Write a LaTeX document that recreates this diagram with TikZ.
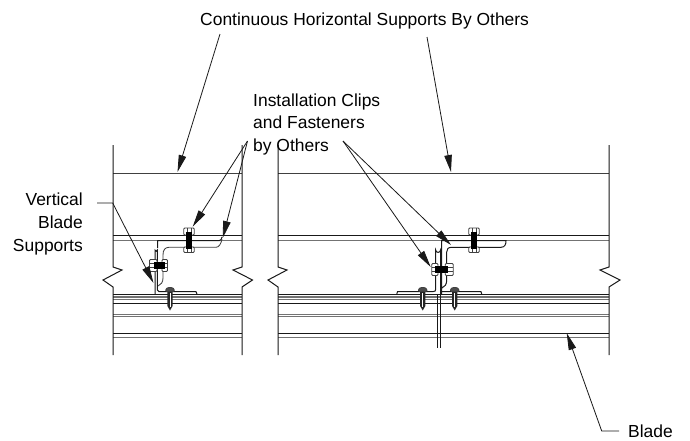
\documentclass[tikz,border=0pt]{standalone}
\usepackage{fontspec}
\setmainfont{Liberation Sans}
\usetikzlibrary{arrows.meta}
\tikzset{
 ln/.style={line width=1pt,black!90},
 thn/.style={line width=0.85pt,black!75},
 gr/.style={line width=0.9pt,black!55},
 lead/.style={line width=0.8pt,black!90},
 arr/.style={lead,-{Triangle[length=17pt,width=7.5pt]}},
 lbl/.style={font=\fontsize{17.45}{17.45}\selectfont,inner sep=0pt,text=black},
}
% vertical bolt at x=#1
\newcommand{\vbolt}[1]{
 \draw[thn,fill=white,rounded corners=1pt] (#1-5.2,228) rectangle (#1+5.2,235);
 \draw[thn,fill=white,rounded corners=1pt] (#1-5.2,247) rectangle (#1+5.2,252.5);
 \draw[thn] (#1-2,228)--(#1-2,235) (#1+2,228)--(#1+2,235) (#1-2,247)--(#1-2,252.5) (#1+2,247)--(#1+2,252.5);
 \fill[black] (#1-3.4,232)rectangle(#1+3.4,249);
}
% horizontal bolt: #1 nut left start, #2 black start, #3 black end, #4 nut end, #5 y centre
\newcommand{\hbolt}[5]{
 \draw[thn,fill=white,rounded corners=1pt] (#1,#5-6) rectangle (#2+3,#5+6);
 \draw[thn,fill=white,rounded corners=1pt] (#3-3,#5-6) rectangle (#4,#5+6);
 \draw[thn] (#1,#5-2)--(#2,#5-2) (#1,#5+2)--(#2,#5+2) (#3,#5-2)--(#4,#5-2) (#3,#5+2)--(#4,#5+2);
 \fill[black] (#2,#5-3.8)rectangle(#3,#5+3.8);
}
% screw at x=#1
\newcommand{\screw}[1]{
 \fill[black!85] (#1-2.6,291)--(#1+2.6,291)--(#1+2.6,306)--(#1,310.5)--(#1-2.6,306)--cycle;
 \draw[white,line width=0.6pt] (#1,293)--(#1,307);
 \draw[thn,fill=black!70,rounded corners=1pt] (#1-4.2,291.5)--(#1-4.2,289)--(#1-2,287.5)--(#1+2,287.5)--(#1+4.2,289)--(#1+4.2,291.5)--cycle;
}
\begin{document}
\begin{tikzpicture}[x=1pt,y=-1pt]
\useasboundingbox (0,0) rectangle (690,440);
\fill[white] (0,0) rectangle (690,440);
% panels: horizontal lines
\foreach \xa/\xb in {113/242,278/609}{
 \draw[thn] (\xa,173)--(\xb,173);
 \draw[ln] (\xa,235)--(\xb,235);
 \draw[gr] (\xa,240.7)--(\xb,240.7);
 \draw[ln] (\xa,294.3)--(\xb,294.3);
 \draw[gr,line width=1.5pt] (\xa,296.8)--(\xb,296.8);
 \draw[gr] (\xa,299)--(\xb,299);
 \draw[ln] (\xa,303)--(\xb,303);
 \draw[gr] (\xa,314.3)--(\xb,314.3);
 \draw[gr] (\xa,316.5)--(\xb,316.5);
 \draw[ln] (\xa,333.3)--(\xb,333.3);
 \draw[gr] (\xa,337)--(\xb,337);
}
% panel edges with breaks
\draw[ln] (113,145)--(113,267)--(122,270)--(103,280)--(113,287)--(113,355);
\draw[ln] (242,145)--(242,267)--(233,270)--(252.5,280)--(242,287)--(242,355);
\draw[ln] (278,145)--(278,267)--(287,270)--(268,280)--(278,287)--(278,355);
\draw[ln] (609,145)--(609,267)--(600,270)--(620,280)--(609,287)--(609,355);
% left clip
\draw[ln,line join=round] (157.5,248)--(157.5,240.7)--(219,240.7) .. controls (221,240.7) and (221.5,239) .. (222,237);
\draw[thn] (222,239) .. controls (221,244) and (219,247.3) .. (216,247.3)--(169,247.3) .. controls (165,247.3) and (163,250) .. (163,255)--(163,278) .. controls (163,282) and (161,285) .. (158,286);
\draw[ln] (155,294)--(155,250) arc (180:0:1.2) --(157.4,290) .. controls (157.4,291) and (158,291.6) .. (159,291.6)--(196,291.6)--(197,294);
\vbolt{189}
\hbolt{149.5}{154}{165}{167.5}{265.5}
\screw{170}
% right clips
\draw[ln] (396.8,294)--(397.5,291.6)--(433,291.6) .. controls (435,291.6) and (435.7,291) .. (435.7,289)--(435.7,250) arc (180:0:2.4)--(440.5,295);
\draw[ln] (437.3,295)--(437.3,348) (440.7,295)--(440.7,348);
\draw[ln] (441.7,294)--(441.7,240.7)--(506,240.7) .. controls (506,244) and (505,247.3) .. (501,247.3)--(452,247.3) .. controls (448,247.3) and (446.7,249) .. (446.7,252)--(446.7,280) .. controls (446.7,284) and (445,287) .. (442,288);
\draw[ln] (441.7,291.6)--(481,291.6)--(481.7,294);
\vbolt{474}
\hbolt{431.7}{435}{448.3}{453.3}{269.5}
\screw{422.7}
\screw{454.7}
% labels
\node[lbl,anchor=base west] (top) at (200,25) {Continuous Horizontal Supports By Others};
\node[lbl,anchor=base west] (c1t) at (253,106) {Installation Clips};
\node[lbl,anchor=base west] (c2t) at (253,128.5) {and Fasteners};
\node[lbl,anchor=base west] (c3t) at (253,151) {by Others};
\node[lbl,anchor=base east] (v1t) at (83,205) {Vertical};
\node[lbl,anchor=base east] (v2t) at (83,228) {Blade};
\node[lbl,anchor=base east] (v3t) at (83,251) {Supports};
\node[lbl,anchor=base west] (blade) at (628,437) {Blade};
% leader coordinates
\coordinate (t1) at (220,34); \coordinate (t1e) at (177.5,172);
\coordinate (t2) at (427,37); \coordinate (t2e) at (451,172);
\coordinate (c1) at (247.5,141); \coordinate (c1e) at (192.7,226.7); \coordinate (c2e) at (222.7,238);
\coordinate (c3) at (343,141); \coordinate (c3e) at (451,245); \coordinate (c4e) at (430.7,267);
\coordinate (v0) at (97,203); \coordinate (v1) at (112.7,203); \coordinate (ve) at (153.5,283);
\coordinate (b0) at (619,431); \coordinate (b1) at (601.7,431); \coordinate (be) at (566.7,333);
\draw[arr] (t1)--(t1e);
\draw[arr] (t2)--(t2e);
\draw[arr] (c1)--(c1e);
\draw[arr] (c1)--(c2e);
\draw[arr] (c3)--(c3e);
\draw[arr] (c3)--(c4e);
\draw[arr] (v0)--(v1)--(ve);
\draw[arr] (b0)--(b1)--(be);
\end{tikzpicture}
\end{document}
